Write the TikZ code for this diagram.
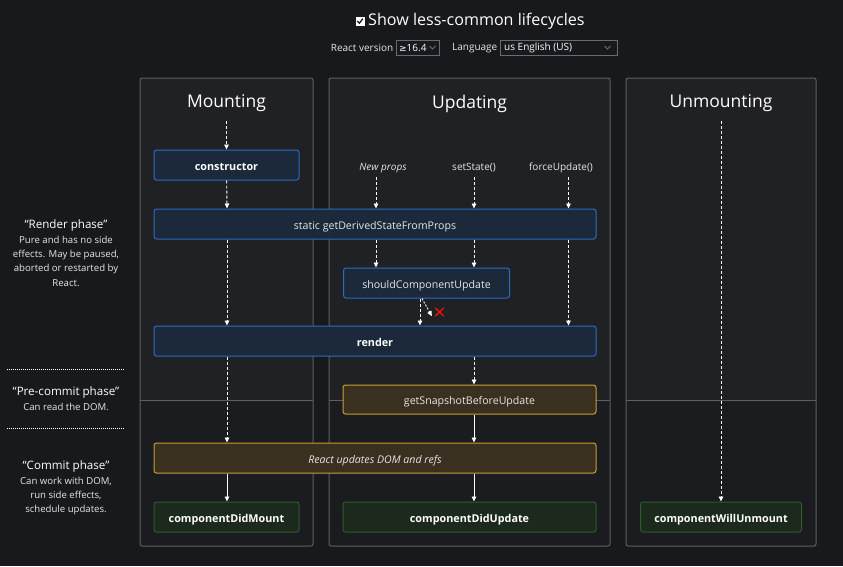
\documentclass[tikz,border=0pt]{standalone}
\usepackage{fontspec}
\setmainfont{Open Sans}
\newfontfamily\symfont{DejaVu Sans}
\usetikzlibrary{arrows.meta,shapes.misc}

\definecolor{bg}{HTML}{18191C}
\definecolor{panelup}{HTML}{202125}
\definecolor{panellow}{HTML}{1B1C20}
\definecolor{panelline}{HTML}{5E5F64}
\definecolor{bluefill}{HTML}{1B293B}
\definecolor{bluedraw}{HTML}{2B6BC2}
\definecolor{goldfill}{HTML}{3A3020}
\definecolor{golddraw}{HTML}{C89E33}
\definecolor{greenfill}{HTML}{1B2A1D}
\definecolor{greendraw}{HTML}{2F5A2C}
\definecolor{softwhite}{HTML}{E6E6E6}
\definecolor{dropline}{HTML}{6A6B70}

\tikzset{
  heading/.style={text=white, font=\fontsize{17.5}{20}\selectfont, inner sep=2pt},
  stagebox/.style={rounded corners=2.5pt, line width=1pt, minimum height=30pt, inner sep=0pt, text height=10pt, text depth=0pt, text=softwhite, font=\fontsize{10.6}{13}\selectfont},
  bluebox/.style={stagebox, draw=bluedraw, fill=bluefill},
  goldbox/.style={stagebox, draw=golddraw, fill=goldfill},
  greenbox/.style={stagebox, draw=greendraw, fill=greenfill, font=\fontsize{10.8}{13}\selectfont\bfseries, text=white},
  trigger/.style={text=softwhite, font=\fontsize{10}{12}\selectfont, inner xsep=0pt, inner ysep=7pt, text height=8pt, text depth=0pt},
  flow/.style={white, line width=0.9pt, dash pattern=on 3pt off 2pt, -{Triangle[length=5pt,width=4.5pt]}},
  commit/.style={white, line width=0.9pt, -{Triangle[length=5pt,width=4.5pt]}},
  phasehead/.style={text=white, font=\fontsize{11.6}{14}\selectfont, inner sep=1pt},
  phasenote/.style={text=softwhite, font=\fontsize{9.6}{14.2}\selectfont, align=center, inner sep=1pt},
  dropbox/.style={draw=dropline, fill=bg, line width=0.8pt, minimum height=15pt, inner sep=0pt}
}

\begin{document}
\begin{tikzpicture}[x=1pt,y=-1pt]
\fill[bg] (0,0) rectangle (843,566);

\foreach \l/\r in {140/313, 329/610, 626/816} {
  \fill[panellow] (\l,78) rectangle (\r,546);
  \fill[panelup] (\l,78) rectangle (\r,400.5);
  \draw[panelline, line width=0.8pt] (\l,400.5) -- (\r,400.5);
  \draw[panelline, line width=1pt, rounded corners=2pt] (\l,78) rectangle (\r,546);
}

\node[draw=white, fill=white, minimum size=8.5pt, inner sep=0pt] (chk) at (360,21) {};
\draw[bg, line width=1.3pt] (357.3,21) -- (359.4,23.2) -- (362.8,18.7);
\node[anchor=west, text=white, font=\fontsize{16.1}{20}\selectfont, inner sep=0pt] (showless) at (368,21.5) {Show less-common lifecycles};

\node[anchor=east, text=softwhite, font=\fontsize{10}{12}\selectfont, inner sep=0pt] (versionlbl) at (393.5,48) {React version};
\node[dropbox, minimum width=43pt] (version) at (417.5,47.5) {};
\node[anchor=west, text=white, font=\fontsize{10}{12}\selectfont, inner sep=0pt] (versiontxt) at (399,48) {{\symfont\fontsize{9}{12}\selectfont ≥}16.4};
\draw[dropline, line width=0.8pt] (429.5,46) -- (432.5,49) -- (435.5,46);
\node[anchor=east, text=softwhite, font=\fontsize{10}{12}\selectfont, inner sep=0pt] (langlbl) at (497.5,48) {Language};
\node[dropbox, minimum width=117pt] (lang) at (558.5,47.5) {};
\node[anchor=west, text=white, font=\fontsize{10}{12}\selectfont, inner sep=0pt] (langtxt) at (504,48) {us English (US)};
\draw[dropline, line width=0.8pt] (604.5,46) -- (607.5,49) -- (610.5,46);

\node[heading] (mounting) at (226.5,103.5) {Mounting};
\node[heading] (updating) at (469.5,103.5) {Updating};
\node[heading] (unmounting) at (721,103.5) {Unmounting};

\coordinate (lane1) at (227,0);
\coordinate (lane2) at (376,0);
\coordinate (lane3) at (420,0);
\coordinate (lane4) at (474,0);
\coordinate (lane5) at (568.5,0);

\node[bluebox, minimum width=145pt, font=\fontsize{10.8}{13}\selectfont\bfseries, text=white] (cons) at (226.5,165) {constructor};
\node[trigger] (newprops) at (383,166) {\itshape New props};
\node[trigger] (setstate) at (474,166) {setState()};
\node[trigger] (forceupd) at (561,166) {forceUpdate()};
\node[bluebox, minimum width=442pt] (gdsfp) at (375,224) {static getDerivedStateFromProps};
\node[bluebox, minimum width=166pt] (scu) at (426.5,283) {shouldComponentUpdate};
\node[cross out, draw=red!85!orange, line width=1.3pt, minimum size=7pt, inner sep=0pt] (veto) at (439.5,312) {};
\node[bluebox, minimum width=442pt, font=\fontsize{10.8}{13}\selectfont\bfseries, text=white] (render) at (375,341) {render};
\node[goldbox, minimum width=253pt, minimum height=29pt] (gsbu) at (469.5,399.5) {getSnapshotBeforeUpdate};
\node[goldbox, minimum width=442pt] (rudr) at (375,458) {\itshape React updates DOM and refs};
\node[greenbox, minimum width=145pt] (cdm) at (226.5,517) {componentDidMount};
\node[greenbox, minimum width=253pt] (cdu) at (469.5,517) {componentDidUpdate};
\node[greenbox, minimum width=161pt] (cwu) at (721,517) {componentWillUnmount};

\draw[flow, shorten <=7pt] (mounting) -- (cons);
\draw[flow] (cons) -- (gdsfp.north -| lane1);
\draw[flow] (newprops.south -| lane2) -- (gdsfp.north -| lane2);
\draw[flow] (setstate.south -| lane4) -- (gdsfp.north -| lane4);
\draw[flow] (forceupd.south -| lane5) -- (gdsfp.north -| lane5);
\draw[flow] (gdsfp.south -| lane1) -- (render.north -| lane1);
\draw[flow] (gdsfp.south -| lane2) -- (scu.north -| lane2);
\draw[flow] (gdsfp.south -| lane4) -- (scu.north -| lane4);
\draw[flow] (gdsfp.south -| lane5) -- (render.north -| lane5);
\draw[flow] (scu.south -| lane3) -- (render.north -| lane3);
\draw[flow, dash pattern=on 2pt off 1.5pt] ([xshift=2pt]scu.south -| lane3) -- ([xshift=-3.5pt]veto.south west);
\draw[flow] (render.south -| lane4) -- (gsbu.north -| lane4);
\draw[flow] (render.south -| lane1) -- (rudr.north -| lane1);
\draw[commit] (gsbu.south -| lane4) -- (rudr.north -| lane4);
\draw[commit] (rudr.south -| lane1) -- (cdm.north -| lane1);
\draw[commit] (rudr.south -| lane4) -- (cdu.north -| lane4);
\draw[flow, shorten <=7pt] (unmounting) -- (cwu);

\node[phasehead] (renderphase) at (66,225) {“Render phase”};
\node[phasenote, anchor=north] (rendernote) at ([yshift=-3pt]renderphase.south) {Pure and has no side\\effects. May be paused,\\aborted or restarted by\\React.};
\draw[white, line width=0.7pt, dash pattern=on 1pt off 1pt] (7,369) -- (125,369);
\node[phasehead] (precommit) at (66,392) {“Pre-commit phase”};
\node[phasenote, anchor=north] (precommitnote) at ([yshift=-3pt]precommit.south) {Can read the DOM.};
\draw[white, line width=0.7pt, dash pattern=on 1pt off 1pt] (7,428) -- (125,428);
\node[phasehead] (commitphase) at (66,466) {“Commit phase”};
\node[phasenote, anchor=north] (commitnote) at ([yshift=-3pt]commitphase.south) {Can work with DOM,\\run side effects,\\schedule updates.};
\end{tikzpicture}
\end{document}
